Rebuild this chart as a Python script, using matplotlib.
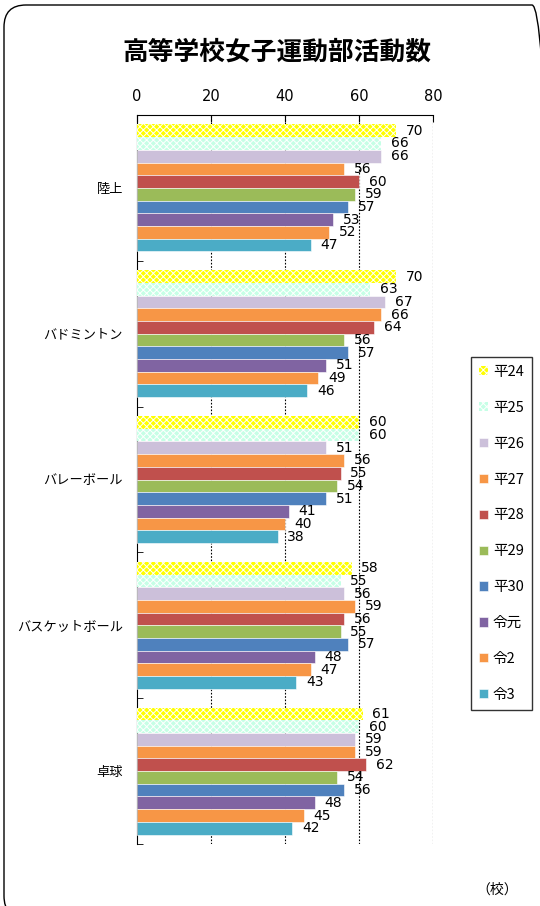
import numpy as np
import matplotlib
matplotlib.use("Agg")
import matplotlib.pyplot as plt
from matplotlib.patches import FancyBboxPatch

plt.rcParams['font.family'] = ['Noto Sans CJK JP', 'DejaVu Sans']
plt.rcParams['hatch.linewidth'] = 0.7

# data
categories = ['陸上', 'バドミントン', 'バレーボール', 'バスケットボール', '卓球']
years = ['平24', '平25', '平26', '平27', '平28', '平29', '平30', '令元', '令2', '令3']
values = [
    [70, 66, 66, 56, 60, 59, 57, 53, 52, 47],   # 陸上
    [70, 63, 67, 66, 64, 56, 57, 51, 49, 46],   # バドミントン
    [60, 60, 51, 56, 55, 54, 51, 41, 40, 38],   # バレーボール
    [58, 55, 56, 59, 56, 55, 57, 48, 47, 43],   # バスケットボール
    [61, 60, 59, 59, 62, 54, 56, 48, 45, 42],   # 卓球
]
colors = ['#FFFF00', '#C6FFE6', '#CCC0DA', '#F79646', '#C0504D',
          '#9BBB59', '#4F81BD', '#8064A2', '#F79646', '#4BACC6']
hatched = [True, True] + [False] * 8

fig = plt.figure(figsize=(5.4, 9.06), dpi=100)

# rounded outer frame (right and bottom edges run off the picture)
frame = FancyBboxPatch((0.04, -0.12), 5.50, 9.13,
                       boxstyle="round,pad=0,rounding_size=0.22",
                       transform=fig.dpi_scale_trans, fill=False,
                       edgecolor='black', linewidth=1.0)
fig.patches.append(frame)

ax = fig.add_axes([0.2537, 0.0684, 0.5482, 0.8047])

vals = np.array(values)
n = len(years)
bar_h = 0.087
y0 = np.arange(len(categories))
for j in range(n):
    ys = y0 - bar_h * (n - 1) / 2 + j * bar_h
    if hatched[j]:
        ax.barh(ys, vals[:, j], height=bar_h, color=colors[j],
                hatch='xxxxx', edgecolor='white', linewidth=0,
                label=years[j], zorder=3)
    else:
        ax.barh(ys, vals[:, j], height=bar_h, color=colors[j],
                edgecolor='white', linewidth=0.4,
                label=years[j], zorder=3)
    for y, v in zip(ys, vals[:, j]):
        ax.annotate(str(v), (v, y), xytext=(7, 0), textcoords='offset points',
                    va='center', ha='left', fontsize=10,
                    family=['DejaVu Sans'], zorder=4)

ax.set_xlim(0, 80)
ax.set_ylim(4.5, -0.5)
ax.xaxis.tick_top()
ax.set_xticks([0, 20, 40, 60, 80])
ax.tick_params(axis='x', direction='in', length=5, labelsize=10.5, pad=8)
ax.set_yticks(y0)
ax.set_yticklabels(categories, fontsize=9.5)
ax.tick_params(axis='y', length=0, pad=10)
ax.set_yticks(np.arange(-0.5, 5, 1), minor=True)
ax.tick_params(axis='y', which='minor', direction='in', length=4)
for lab in ax.get_xticklabels():
    lab.set_family(['DejaVu Sans'])

for x in [20, 40, 60, 80]:
    ax.axvline(x, color='black', linestyle=(0, (1.5, 1.5)), linewidth=0.8, zorder=1)
ax.spines['right'].set_visible(False)
ax.spines['bottom'].set_visible(False)

fig.text(0.513, 0.942, '高等学校女子運動部活動数', ha='center', va='center',
         fontsize=18.5, fontweight='bold')
fig.text(0.92, 0.018, '（校）', ha='center', va='center', fontsize=10)

leg = fig.legend(loc='upper left', bbox_to_anchor=(0.872, 0.606),
                 fontsize=10.5, frameon=True, fancybox=False, edgecolor='black',
                 labelspacing=1.5, handlelength=0.6, handleheight=0.6,
                 handletextpad=0.35, borderpad=0.55, borderaxespad=0)
leg.get_frame().set_linewidth(1.0)

fig.savefig('out.png', dpi=100)
